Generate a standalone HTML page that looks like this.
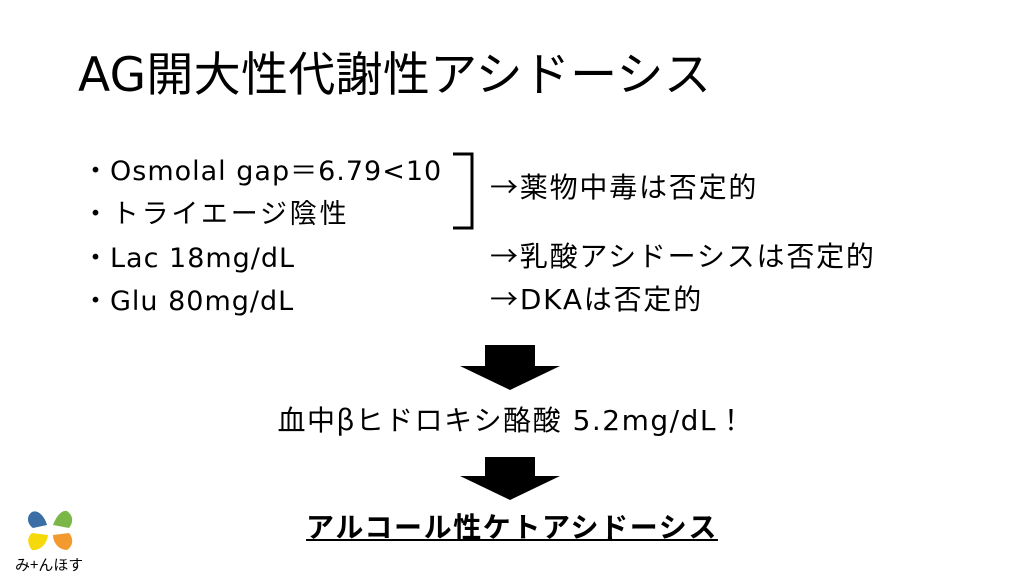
<!DOCTYPE html>
<html><head><meta charset="utf-8"><style>
body{margin:0;width:1024px;height:576px;background:#fff;position:relative;overflow:hidden;font-family:"DejaVu Sans","Noto Sans CJK JP",sans-serif;color:#000}
.t{position:absolute;white-space:nowrap;line-height:1}
.j{font-family:"Noto Sans CJK JP",sans-serif}
.b{font-size:27px;letter-spacing:1px}
.r{font-size:28px;letter-spacing:1.8px}
</style></head><body>
<div class="t" style="left:78px;top:52px;font-size:47px;letter-spacing:0.3px">AG開大性代謝性アシドーシス</div>
<div class="t b" style="left:82px;top:155px"><span class="j">・</span>Osmolal gap＝6.79&lt;10</div>
<div class="t b" style="left:82px;top:198px"><span class="j" style="letter-spacing:2.8px">・トライエージ陰性</span></div>
<div class="t b" style="left:82px;top:242px"><span class="j">・</span>Lac 18mg/dL</div>
<div class="t b" style="left:82px;top:285px"><span class="j">・</span>Glu 80mg/dL</div>
<svg style="position:absolute;left:0;top:0" width="1024" height="576">
<path d="M453 154 H472 V228 H453" fill="none" stroke="#000" stroke-width="3"/>
<polygon points="485,345 535,345 535,366 560,366 510,390 460,366 485,366"/>
<polygon points="485,457 535,457 535,476 560,476 510,500 460,476 485,476"/>
</svg>
<div class="t j r" style="left:490px;top:172px">→薬物中毒は否定的</div>
<div class="t j r" style="left:490px;top:241px">→乳酸アシドーシスは否定的</div>
<div class="t r" style="left:490px;top:284px"><span class="j">→</span>DKA<span class="j">は否定的</span></div>
<div class="t" style="left:0;width:1024px;text-align:center;top:405px;font-size:28px;letter-spacing:1.5px"><span class="j">血中βヒドロキシ酪酸</span> 5.2mg/dL<span class="j">！</span></div>
<div class="t j" style="left:0;width:1024px;text-align:center;top:512px;font-size:28px;font-weight:bold;text-decoration:underline;letter-spacing:1.6px">アルコール性ケトアシドーシス</div>
<svg style="position:absolute;left:12px;top:508px" width="70" height="66">
<path d="M20 4 C26 1 33 9 35 17 L21 20 C15 16 14 8 20 4Z" fill="#3a6ea5"/>
<path d="M55 3 C62 8 61 15 57 20 L41 17 C44 9 49 2 55 3Z" fill="#7ab648"/>
<path d="M20 25 L36 27 C35 36 28 43 20 42 C15 36 15 29 20 25Z" fill="#f5d90a"/>
<path d="M41 27 L57 25 C62 31 61 38 55 42 C47 42 41 35 41 27Z" fill="#f29a2e"/>
<text x="3" y="62" font-size="15" font-family="Noto Sans CJK JP,sans-serif">み+んほす!</text>
</svg>
</body></html>
